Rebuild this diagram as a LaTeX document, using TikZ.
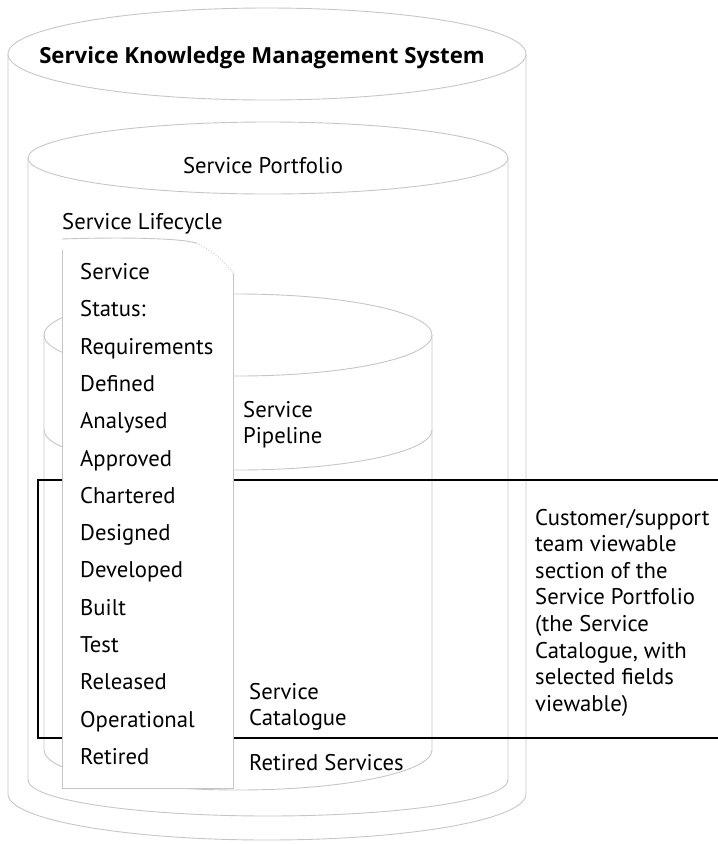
\documentclass[tikz,border=0pt]{standalone}
\usepackage{fontspec}
\setmainfont{PT Sans}
\newfontfamily\titlefont{Open Sans}
\begin{document}
\begin{tikzpicture}[x=1pt,y=-1pt,
  sk/.style={draw=gray!45, line width=0.9pt},
  txt/.style={font=\fontsize{22.7}{26}\selectfont, inner sep=0pt, anchor=base west},
  blk/.style={draw=black, line width=2.8pt}]
\useasboundingbox (0,0) rectangle (718,844);

% outer cylinder: Service Knowledge Management System
\draw[sk] (267,54) ellipse [x radius=259pt, y radius=46pt];
\draw[sk] (8,54) -- (8,794) arc [start angle=180, end angle=360, x radius=259pt, y radius=46pt] -- (526,54);

% service portfolio cylinder
\draw[sk] (268,158) ellipse [x radius=240pt, y radius=36pt];
\draw[sk] (28,158) -- (28,780) arc [start angle=180, end angle=360, x radius=240pt, y radius=36pt] -- (508,158);

% pipeline / catalogue cylinder
\draw[sk] (238,335) ellipse [x radius=194pt, y radius=41pt];
\draw[sk] (44,430) arc [start angle=180, end angle=360, x radius=194pt, y radius=40pt];
\draw[sk] (44,335) -- (44,750) arc [start angle=180, end angle=360, x radius=194pt, y radius=40pt] -- (432,335);

% black bracket and lines
\coordinate (bt) at (60,480);
\coordinate (bb) at (60,738);
\coordinate (rt) at (718,480);
\coordinate (rb) at (718,738);
\draw[blk] (bt) -| (38,738) -- (bb);
\draw[blk] (bt) -- (rt);
\draw[blk] (bb) -- (rb);

% lifecycle column
\fill[white] (62,239) .. controls (150,237) and (215,243) .. (233,285) -- (233,788) -- (62,788) -- cycle;
\draw[sk] (62,250) -- (62,788) -- (233,788) -- (233,273);
\draw[sk] (62,239) .. controls (120,237) and (180,238) .. (196,243);
\draw[sk, dotted] (196,243) .. controls (215,252) and (228,265) .. (233,273);

% texts
\node[font=\titlefont\bfseries\fontsize{22.2}{26}\selectfont, inner sep=0pt, anchor=base] (skms) at (262,63) {Service Knowledge Management System};
\node[txt, anchor=base] (port) at (263,173) {Service Portfolio};
\node[txt] (life) at (62,229) {Service Lifecycle};
\foreach \t [count=\i from 0] in {Service, Status:, Requirements, Defined, Analysed, Approved, Chartered, Designed, Developed, Built, Test, Released, Operational, Retired}
  \node[txt] (st\i) at (80,279.5+37.3*\i) {\t};
\node[txt] (pipe1) at (243,417) {Service};
\node[txt] (pipe2) at (243,443) {Pipeline};
\node[txt] (cat1) at (249,699) {Service};
\node[txt] (cat2) at (249,725) {Catalogue};
\node[txt] (ret) at (249,770) {Retired Services};
\foreach \t [count=\i from 0] in {{Customer/support}, {team viewable}, {section of the}, {Service Portfolio}, {(the Service}, {Catalogue, with}, {selected fields}, {viewable)}}
  \node[txt] (cu\i) at (535,525+26.6*\i) {\t};
\end{tikzpicture}
\end{document}
